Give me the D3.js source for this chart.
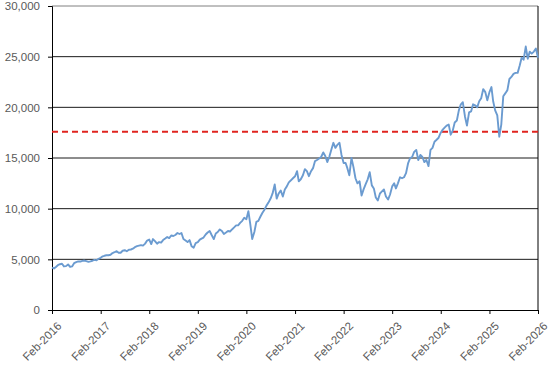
<!DOCTYPE html>
<html>
<head>
<meta charset="utf-8">
<script src="https://cdn.jsdelivr.net/npm/d3@7"></script>
<style>
  body { margin: 0; background: #fff; }
  svg { display: block; font-family: "Open Sans", "Liberation Sans", sans-serif; }
</style>
</head>
<body>
<div id="chart"></div>
<script>
// Semi-monthly closes (1st and 16th of each month) starting Feb 2016
const seriesStart = '2016-02-01';
const closes = [
  4180, 4100, 4250, 4420, 4520, 4560, 4300, 4330, 4500, 4250, 4300, 4620,
  4730, 4800, 4780, 4850, 4880, 4820, 4750, 4800, 4860, 4950,
  4900, 5050, 5150, 5300, 5350, 5400, 5400, 5450, 5620, 5700, 5800, 5650,
  5650, 5850, 5900, 5800, 5950, 5970, 6050, 6200, 6300, 6350, 6400, 6350,
  6550, 6850, 6950, 6500, 7000, 6800, 6550, 6700, 6650, 6900, 7050, 7200,
  7100, 7350, 7300, 7400, 7600, 7500, 7600, 7000, 6850, 6700, 6900, 6300,
  6150, 6600, 6700, 6950, 7050, 7150, 7450, 7650, 7800, 7400, 7000, 7550,
  7700, 7950, 7800, 7500, 7650, 7800, 7750, 7950, 8150, 8350, 8350, 8600,
  8800, 9100, 8950, 9750, 8500, 7000, 7700, 8700, 8800, 9200, 9600, 9900,
  10300, 10600, 11000, 11500, 12400, 11000, 11500, 11800, 11200, 11900, 12200, 12600,
  12800, 13000, 13200, 13700, 12700, 12900, 13300, 13900, 13700, 13200, 13700, 14000,
  14700, 14800, 14950, 15100, 15550, 15200, 14600, 15100, 15850, 16500, 16000, 16300,
  16500, 15300, 14500, 14500, 14000, 13300, 15000, 14100, 13000, 12500, 12700, 11300,
  11900, 12400, 12900, 13600, 12300, 12000, 11100, 10800, 11500, 11700, 11900, 11200,
  10900, 11400, 12200, 12500, 12000, 12500, 13100, 13000, 13100, 13500, 14500, 15000,
  15100, 15600, 15800, 14800, 15300, 15100, 14600, 14800, 14200, 15800, 16000, 16600,
  16800, 17000, 17500, 17800, 18000, 18200, 18300, 17300, 17700, 18500, 18700, 19700,
  20300, 20500, 19100, 18200, 19500, 19600, 20300, 20200, 20000, 20600, 20900, 21800,
  21500, 20700, 21500, 22000, 20600, 19700, 19200, 17100, 18300, 21100, 21400, 21700,
  22800, 23000, 23300, 23400, 23400, 24100, 24900, 24700, 26000, 24800, 25500, 25300,
  25500, 25800, 24900
];
const thresholdValue = 17600;
const yTicks = [0, 5000, 10000, 15000, 20000, 25000, 30000];
const xTickYears = [2016, 2017, 2018, 2019, 2020, 2021, 2022, 2023, 2024, 2025, 2026];

const W = 552, H = 372;
const m = { t: 6, r: 14, b: 62, l: 52 };
const innerW = W - m.l - m.r;
const innerH = H - m.t - m.b;

const start = d3.utcParse('%Y-%m-%d')(seriesStart);
const points = closes.map((v, i) => {
  let d = d3.utcMonth.offset(start, Math.floor(i / 2));
  if (i % 2 === 1) d = d3.utcDay.offset(d, 15);
  return { date: d, value: v };
});

const svg = d3.select('#chart').append('svg').attr('width', W).attr('height', H);
const g = svg.append('g').attr('transform', `translate(${m.l},${m.t})`);

const x = d3.scaleUtc()
  .domain([new Date(Date.UTC(2016, 1, 1)), new Date(Date.UTC(2026, 1, 1))])
  .range([0, innerW]);
const y = d3.scaleLinear().domain([0, 30000]).range([innerH, 0]);
const fmt = d3.format(',');

// gridlines
g.append('g').selectAll('line').data(yTicks.filter(t => t > 0)).enter().append('line')
  .attr('x1', 0).attr('x2', innerW)
  .attr('y1', d => y(d)).attr('y2', d => y(d))
  .attr('stroke', d => d === 30000 ? '#808080' : '#1a1a1a').attr('stroke-width', 1);

// y axis
const yAxis = g.append('g').call(d3.axisLeft(y).tickValues(yTicks).tickFormat(fmt).tickSize(4).tickPadding(8));
yAxis.select('.domain').attr('stroke', '#000');
yAxis.selectAll('.tick line').attr('stroke', '#000');
yAxis.selectAll('text').attr('fill', '#595959').style('font-size', '11.5px');

// x axis
const xAxis = g.append('g').attr('transform', `translate(0,${innerH})`)
  .call(d3.axisBottom(x).tickValues(xTickYears.map(yr => new Date(Date.UTC(yr, 1, 1))))
    .tickFormat(d3.utcFormat('%b-%Y')).tickSize(4).tickSizeOuter(0));
xAxis.select('.domain').attr('stroke', '#000');
xAxis.selectAll('.tick line').attr('stroke', '#000');
xAxis.selectAll('text')
  .attr('fill', '#595959').style('font-size', '11.5px')
  .attr('text-anchor', 'end')
  .attr('dy', '0.35em')
  .attr('transform', 'translate(2,9) rotate(-45)');

// right frame
g.append('line').attr('x1', innerW).attr('x2', innerW).attr('y1', 0).attr('y2', innerH)
  .attr('stroke', '#000');

// threshold
g.append('line')
  .attr('x1', 0).attr('x2', innerW)
  .attr('y1', y(thresholdValue)).attr('y2', y(thresholdValue))
  .attr('stroke', '#e0241f').attr('stroke-width', 2).attr('stroke-dasharray', '6,4');

// series
const line = d3.line().x(d => x(d.date)).y(d => y(d.value));
g.append('path').datum(points)
  .attr('d', line)
  .attr('fill', 'none')
  .attr('stroke', '#6b9bd0')
  .attr('stroke-width', 1.9)
  .attr('stroke-linejoin', 'round');
</script>
</body>
</html>
